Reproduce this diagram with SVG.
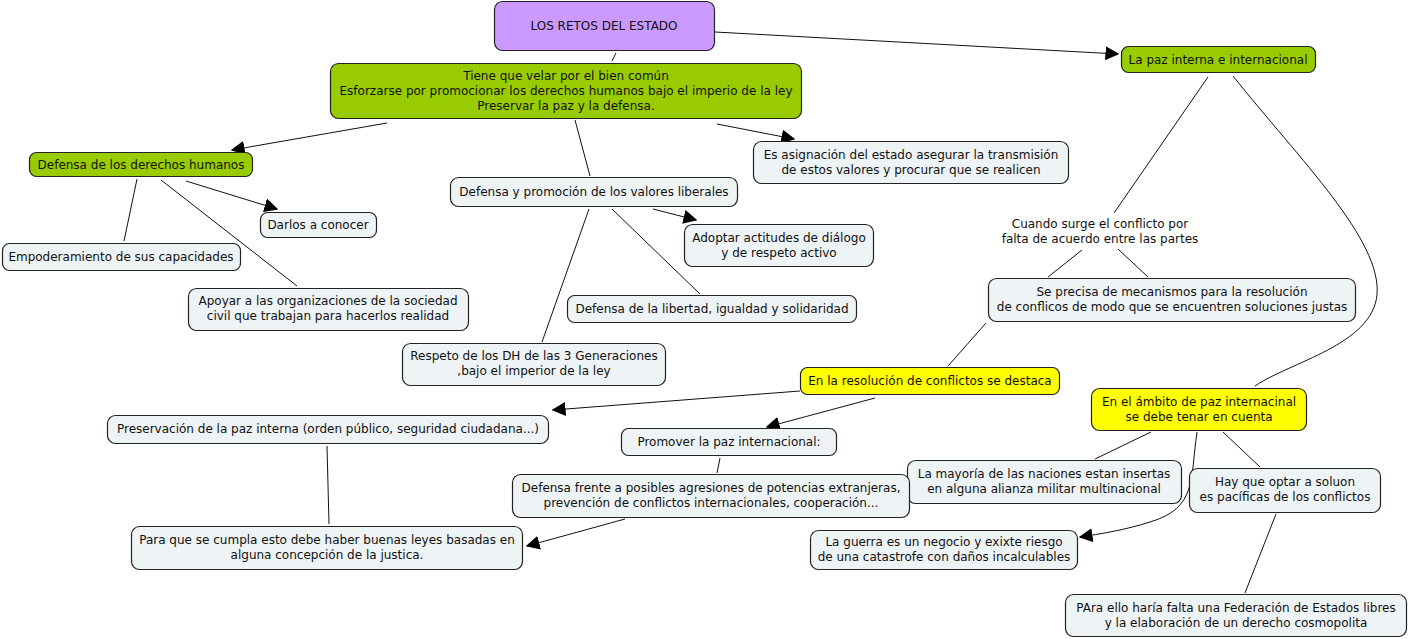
<svg xmlns="http://www.w3.org/2000/svg" width="1408" height="639" viewBox="0 0 1408 639">
<defs>
<style>
.n{stroke:#222;stroke-width:1.2}
.p{fill:#cc99ff}
.g{fill:#99cc00}
.y{fill:#ffff00}
.l{fill:#eef3f5}
text{font-family:"DejaVu Sans",Verdana,sans-serif;font-size:12px;fill:#111;text-anchor:middle}
.c line,.c path{stroke:#111;stroke-width:1;fill:none}
</style>
<marker id="a" viewBox="0 0 10 10" refX="9" refY="5" markerWidth="14" markerHeight="14" markerUnits="userSpaceOnUse" orient="auto">
<path d="M0,0 L10,5 L0,10 z" fill="#000"/>
</marker>
</defs>
<rect width="1408" height="639" fill="#fff"/>
<g class="c">
<line x1="715" y1="32" x2="1118" y2="54" marker-end="url(#a)"/>
<line x1="616" y1="53" x2="612" y2="61"/>
<line x1="387" y1="123" x2="232" y2="150" marker-end="url(#a)"/>
<line x1="575" y1="120" x2="590" y2="176"/>
<line x1="717" y1="124" x2="794" y2="139" marker-end="url(#a)"/>
<line x1="137" y1="179" x2="124" y2="241"/>
<line x1="186" y1="181" x2="277" y2="209" marker-end="url(#a)"/>
<line x1="161" y1="180" x2="297" y2="286"/>
<line x1="653" y1="209" x2="696" y2="220" marker-end="url(#a)"/>
<line x1="612" y1="209" x2="700" y2="294"/>
<line x1="589" y1="209" x2="542" y2="342"/>
<line x1="1208" y1="77" x2="1114" y2="213"/>
<path d="M1233,76 C1300,160 1382,240 1377,295 C1372,345 1290,362 1255,386"/>
<line x1="1082" y1="250" x2="1048" y2="277"/>
<line x1="1118" y1="249" x2="1148" y2="277"/>
<line x1="986" y1="323" x2="948" y2="366"/>
<line x1="800" y1="391" x2="553" y2="410" marker-end="url(#a)"/>
<line x1="875" y1="398" x2="767" y2="427" marker-end="url(#a)"/>
<line x1="327" y1="446" x2="329" y2="524"/>
<line x1="720" y1="458" x2="717" y2="473"/>
<line x1="625" y1="519" x2="527" y2="546" marker-end="url(#a)"/>
<line x1="1151" y1="432" x2="1095" y2="459"/>
<line x1="1223" y1="432" x2="1260" y2="467"/>
<path d="M1197,432 C1190,480 1197,508 1150,522 C1125,530 1100,534 1080,537" marker-end="url(#a)"/>
<line x1="1276" y1="514" x2="1245" y2="593"/>
</g>
<g id="n1"><rect class="n p" x="494.5" y="1.5" width="220" height="49" rx="8"/><text x="604" y="30">LOS RETOS DEL ESTADO</text></g>
<g id="n2"><rect class="n g" x="330.5" y="63.5" width="471" height="55" rx="8"/><text x="566" y="80">Tiene que velar por el bien común</text><text x="566" y="95">Esforzarse por promocionar los derechos humanos bajo el imperio de la ley</text><text x="566" y="110">Preservar la paz y la defensa.</text></g>
<g id="n3"><rect class="n g" x="1121.5" y="46.5" width="194" height="26" rx="7"/><text x="1218" y="64">La paz interna e internacional</text></g>
<g id="n4"><rect class="n g" x="29.5" y="152.5" width="223" height="24" rx="7"/><text x="141" y="169">Defensa de los derechos humanos</text></g>
<g id="n5"><rect class="n l" x="753.5" y="141.5" width="315" height="42" rx="8"/><text x="911" y="159">Es asignación del estado asegurar la transmisión</text><text x="911" y="174">de estos valores y procurar que se realicen</text></g>
<g id="n6"><rect class="n l" x="450.5" y="177.5" width="287" height="29" rx="8"/><text x="594" y="196">Defensa y promoción de los valores liberales</text></g>
<g id="n7"><rect class="n l" x="260.5" y="212.5" width="116" height="25" rx="7"/><text x="318" y="229">Darlos a conocer</text></g>
<g id="n8"><rect class="n l" x="2.5" y="243.5" width="238" height="27" rx="7"/><text x="121" y="261">Empoderamiento de sus capacidades</text></g>
<g id="n9"><rect class="n l" x="684.5" y="224.5" width="189" height="42" rx="8"/><text x="779" y="242">Adoptar actitudes de diálogo</text><text x="779" y="257">y de respeto activo</text></g>
<g id="n10"><text x="1100" y="228">Cuando surge el conflicto por</text><text x="1100" y="243">falta de acuerdo entre las partes</text></g>
<g id="n11"><rect class="n l" x="188.5" y="288.5" width="280" height="42" rx="8"/><text x="328" y="305">Apoyar a las organizaciones de la sociedad</text><text x="328" y="320">civil que trabajan para hacerlos realidad</text></g>
<g id="n12"><rect class="n l" x="567.5" y="295.5" width="289" height="27" rx="7"/><text x="712" y="313">Defensa de la libertad, igualdad y solidaridad</text></g>
<g id="n13"><rect class="n l" x="988.5" y="278.5" width="367" height="43" rx="8"/><text x="1172" y="296">Se precisa de mecanismos para la resolución</text><text x="1172" y="311">de conflicos de modo que se encuentren soluciones justas</text></g>
<g id="n14"><rect class="n l" x="402.5" y="343.5" width="263" height="42" rx="8"/><text x="534" y="360">Respeto de los DH de las 3 Generaciones</text><text x="534" y="375">,bajo el imperior de la ley</text></g>
<g id="n15"><rect class="n y" x="800.5" y="367.5" width="259" height="27" rx="7"/><text x="930" y="385">En la resolución de conflictos se destaca</text></g>
<g id="n16"><rect class="n y" x="1091.5" y="388.5" width="215" height="42" rx="8"/><text x="1199" y="406">En el ámbito de paz internacinal</text><text x="1199" y="421">se debe tenar en cuenta</text></g>
<g id="n17"><rect class="n l" x="107.5" y="415.5" width="441" height="28" rx="8"/><text x="328" y="433">Preservación de la paz interna (orden público, seguridad ciudadana...)</text></g>
<g id="n18"><rect class="n l" x="621.5" y="428.5" width="215" height="27" rx="7"/><text x="729" y="446">Promover la paz internacional:</text></g>
<g id="n19"><rect class="n l" x="907.5" y="460.5" width="274" height="43" rx="8"/><text x="1044" y="478">La mayoría de las naciones estan insertas</text><text x="1044" y="493">en alguna alianza militar multinacional</text></g>
<g id="n20"><rect class="n l" x="1189.5" y="468.5" width="191" height="44" rx="8"/><text x="1285" y="486">Hay que optar a soluon</text><text x="1285" y="501">es pacíficas de los conflictos</text></g>
<g id="n21"><rect class="n l" x="512.5" y="474.5" width="397" height="43" rx="8"/><text x="711" y="492">Defensa frente a posibles agresiones de potencias extranjeras,</text><text x="711" y="507">prevención de conflictos internacionales, cooperación...</text></g>
<g id="n22"><rect class="n l" x="131.5" y="526.5" width="391" height="43" rx="8"/><text x="327" y="544">Para que se cumpla esto debe haber buenas leyes basadas en</text><text x="327" y="559">alguna concepción de la justica.</text></g>
<g id="n23"><rect class="n l" x="810.5" y="530.5" width="267" height="39" rx="8"/><text x="944" y="546">La guerra es un negocio y exixte riesgo</text><text x="944" y="561">de una catastrofe con daños incalculables</text></g>
<g id="n24"><rect class="n l" x="1065.5" y="594.5" width="341" height="42" rx="8"/><text x="1236" y="612">PAra ello haría falta una Federación de Estados libres</text><text x="1236" y="627">y la elaboración de un derecho cosmopolita</text></g>
</svg>
